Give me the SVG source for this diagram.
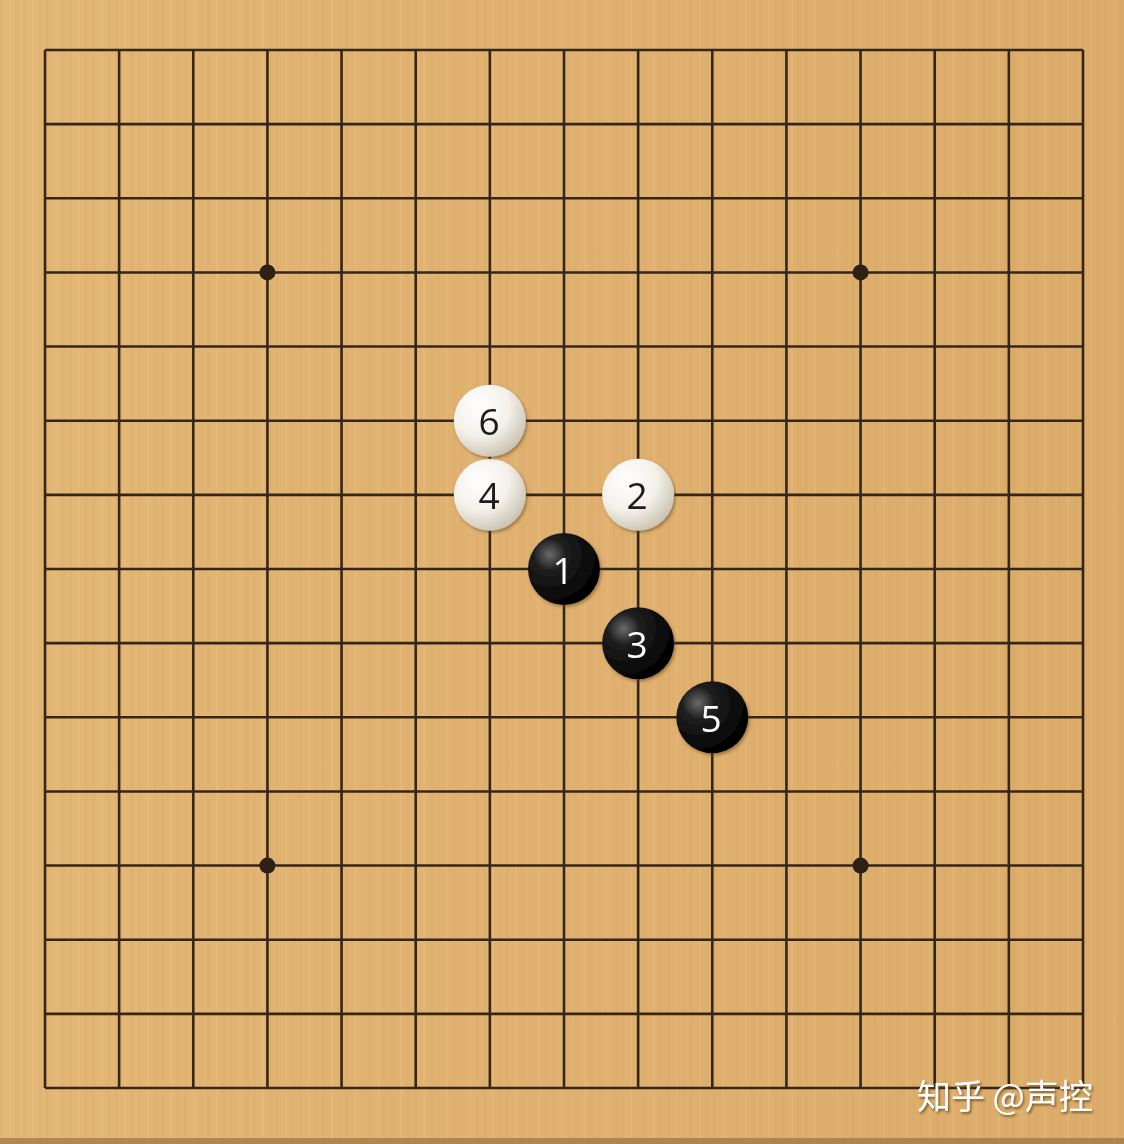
<svg xmlns="http://www.w3.org/2000/svg" width="1124" height="1144" viewBox="0 0 1124 1144">
<defs>
<linearGradient id="board" x1="0" y1="0" x2="1" y2="0">
<stop offset="0" stop-color="#e3b776"/>
<stop offset="0.5" stop-color="#e0b170"/>
<stop offset="1" stop-color="#dcac6a"/>
</linearGradient>
<pattern id="grain" width="23" height="1144" patternUnits="userSpaceOnUse">
<rect x="0" y="0" width="3" height="1144" fill="#c8944f" opacity="0.10"/>
<rect x="9" y="0" width="2" height="1144" fill="#f3cf92" opacity="0.18"/>
<rect x="15" y="0" width="4" height="1144" fill="#c8944f" opacity="0.07"/>
</pattern>
<radialGradient id="white" cx="0.35" cy="0.3" r="0.75">
<stop offset="0" stop-color="#ffffff"/>
<stop offset="0.55" stop-color="#f4f1ea"/>
<stop offset="1" stop-color="#c9c2b2"/>
</radialGradient>
<radialGradient id="black" cx="0.3" cy="0.3" r="0.75">
<stop offset="0" stop-color="#6a6a6a"/>
<stop offset="0.3" stop-color="#1e1e1e"/>
<stop offset="1" stop-color="#000000"/>
</radialGradient>
<filter id="shadow" x="-20%" y="-20%" width="150%" height="150%">
<feDropShadow dx="1.5" dy="2" stdDeviation="1.5" flood-color="#5a3a10" flood-opacity="0.5"/>
</filter>
<filter id="tshadow" x="-10%" y="-20%" width="130%" height="150%">
<feDropShadow dx="1.5" dy="2" stdDeviation="1" flood-color="#6b4a1e" flood-opacity="0.8"/>
</filter>
<style>
.grid line { stroke: #35261a; stroke-width: 2.6; }
.star { fill: #2e2014; }
.num { font-family: "Open Sans", "Noto Sans", "DejaVu Sans", sans-serif; font-size: 37px; text-anchor: middle; dominant-baseline: central; }
.wn { fill: #1a1a1a; }
.bn { fill: #ffffff; }
.wm { font-family: "Noto Sans CJK SC", "Noto Sans", sans-serif; font-size: 34px; fill: #ffffff; }
</style>
</defs>
<rect x="0" y="0" width="1124" height="1144" fill="url(#board)"/>
<rect x="0" y="0" width="1124" height="1144" fill="url(#grain)"/>
<rect x="0" y="1138" width="1124" height="6" fill="#8a6a3a" opacity="0.6"/>
<g id="grid" class="grid">
<line x1="45" y1="50" x2="1083" y2="50"/>
<line x1="45" y1="124.14" x2="1083" y2="124.14"/>
<line x1="45" y1="198.29" x2="1083" y2="198.29"/>
<line x1="45" y1="272.43" x2="1083" y2="272.43"/>
<line x1="45" y1="346.57" x2="1083" y2="346.57"/>
<line x1="45" y1="420.71" x2="1083" y2="420.71"/>
<line x1="45" y1="494.86" x2="1083" y2="494.86"/>
<line x1="45" y1="569" x2="1083" y2="569"/>
<line x1="45" y1="643.14" x2="1083" y2="643.14"/>
<line x1="45" y1="717.29" x2="1083" y2="717.29"/>
<line x1="45" y1="791.43" x2="1083" y2="791.43"/>
<line x1="45" y1="865.57" x2="1083" y2="865.57"/>
<line x1="45" y1="939.71" x2="1083" y2="939.71"/>
<line x1="45" y1="1013.86" x2="1083" y2="1013.86"/>
<line x1="45" y1="1088" x2="1083" y2="1088"/>
<line x1="45" y1="50" x2="45" y2="1088"/>
<line x1="119.14" y1="50" x2="119.14" y2="1088"/>
<line x1="193.29" y1="50" x2="193.29" y2="1088"/>
<line x1="267.43" y1="50" x2="267.43" y2="1088"/>
<line x1="341.57" y1="50" x2="341.57" y2="1088"/>
<line x1="415.71" y1="50" x2="415.71" y2="1088"/>
<line x1="489.86" y1="50" x2="489.86" y2="1088"/>
<line x1="564" y1="50" x2="564" y2="1088"/>
<line x1="638.14" y1="50" x2="638.14" y2="1088"/>
<line x1="712.29" y1="50" x2="712.29" y2="1088"/>
<line x1="786.43" y1="50" x2="786.43" y2="1088"/>
<line x1="860.57" y1="50" x2="860.57" y2="1088"/>
<line x1="934.71" y1="50" x2="934.71" y2="1088"/>
<line x1="1008.86" y1="50" x2="1008.86" y2="1088"/>
<line x1="1083" y1="50" x2="1083" y2="1088"/>
</g>
<g id="stars">
<circle class="star" cx="267.43" cy="272.43" r="8"/>
<circle class="star" cx="860.57" cy="272.43" r="8"/>
<circle class="star" cx="267.43" cy="865.57" r="8"/>
<circle class="star" cx="860.57" cy="865.57" r="8"/>
</g>
<g id="stone1" filter="url(#shadow)">
<circle cx="564" cy="569" r="36" fill="url(#black)"/>
<text class="num bn" x="563" y="569">1</text>
</g>
<g id="stone2" filter="url(#shadow)">
<circle cx="638.14" cy="494.86" r="36" fill="url(#white)"/>
<text class="num wn" x="637" y="494.86">2</text>
</g>
<g id="stone3" filter="url(#shadow)">
<circle cx="638.14" cy="643.14" r="36" fill="url(#black)"/>
<text class="num bn" x="637" y="643.14">3</text>
</g>
<g id="stone4" filter="url(#shadow)">
<circle cx="489.86" cy="494.86" r="36" fill="url(#white)"/>
<text class="num wn" x="489" y="494.86">4</text>
</g>
<g id="stone5" filter="url(#shadow)">
<circle cx="712.29" cy="717.29" r="36" fill="url(#black)"/>
<text class="num bn" x="711" y="717.29">5</text>
</g>
<g id="stone6" filter="url(#shadow)">
<circle cx="489.86" cy="420.71" r="36" fill="url(#white)"/>
<text class="num wn" x="489" y="420.71">6</text>
</g>
<g id="watermark" filter="url(#tshadow)">
<text class="wm" x="917" y="1109">知乎 @声控</text>
</g>
</svg>
